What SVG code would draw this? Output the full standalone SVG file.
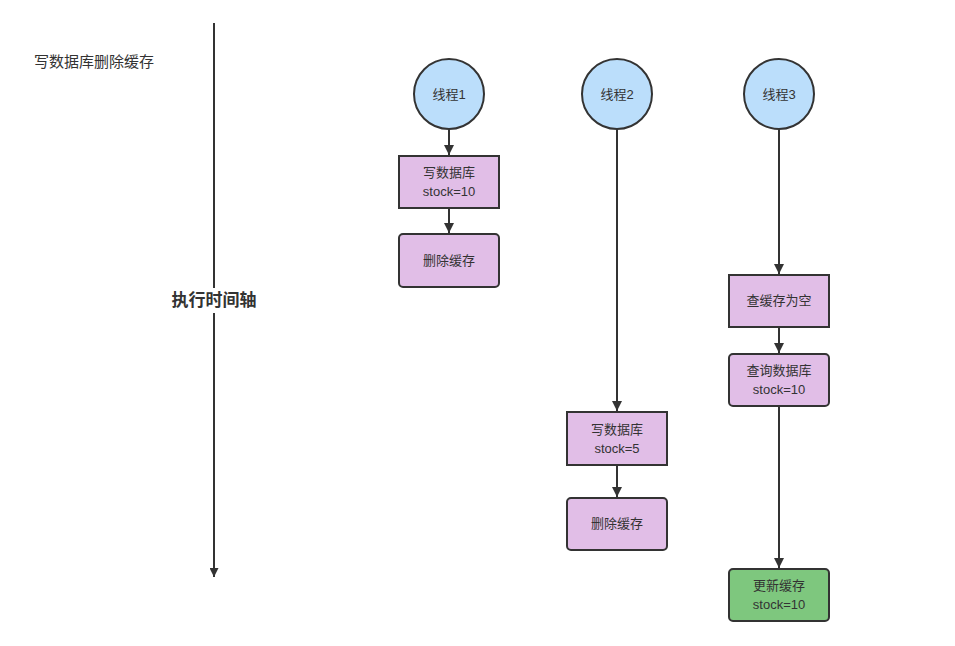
<svg xmlns="http://www.w3.org/2000/svg" width="955" height="646" viewBox="0 0 955 646">
<defs>
<marker id="ah" viewBox="0 0 10 10" refX="10" refY="5" markerWidth="11" markerHeight="10" markerUnits="userSpaceOnUse" orient="auto">
<path d="M0,0 L10,5 L0,10 Z" fill="#333"/>
</marker>
<marker id="ah2" viewBox="0 0 10 10" refX="10" refY="5" markerWidth="14" markerHeight="9" markerUnits="userSpaceOnUse" orient="auto">
<path d="M0,0 L10,5 L0,10 Z" fill="#333"/>
</marker>
<style>
.t{font-family:"Liberation Sans","Noto Sans CJK SC",sans-serif;font-size:13px;fill:#333;text-anchor:middle;}
.c{fill:#bbdefb;stroke:#333;stroke-width:2;}
.b{fill:#e1bee7;stroke:#333;stroke-width:2;}
.g{fill:#7ec77e;stroke:#333;stroke-width:2;}
.e{stroke:#333;stroke-width:2;fill:none;}
</style>
</defs>
<rect width="955" height="646" fill="#fff"/>
<text x="34" y="67" class="t" style="text-anchor:start;font-size:15px">写数据库删除缓存</text>
<g id="timeline">
<line x1="214" y1="23" x2="214" y2="577" stroke="#333" stroke-width="2" marker-end="url(#ah2)"/>
<rect x="168" y="288" width="94" height="25" fill="#fff"/>
<text x="214" y="306" class="t" style="font-size:17px;font-weight:bold">执行时间轴</text>
</g>
<g id="connectors">
<line class="e" x1="449" y1="129" x2="449" y2="155" marker-end="url(#ah)"/>
<line class="e" x1="449" y1="208" x2="449" y2="233" marker-end="url(#ah)"/>
<line class="e" x1="617" y1="129" x2="617" y2="411" marker-end="url(#ah)"/>
<line class="e" x1="617" y1="465" x2="617" y2="497" marker-end="url(#ah)"/>
<line class="e" x1="779" y1="129" x2="779" y2="274" marker-end="url(#ah)"/>
<line class="e" x1="779" y1="327" x2="779" y2="353" marker-end="url(#ah)"/>
<line class="e" x1="779" y1="406" x2="779" y2="568" marker-end="url(#ah)"/>
</g>
<g id="thread1"><circle class="c" cx="449" cy="94" r="35"/><text class="t" x="449" y="99">线程1</text></g>
<g id="thread2"><circle class="c" cx="617" cy="94" r="35"/><text class="t" x="617" y="99">线程2</text></g>
<g id="thread3"><circle class="c" cx="779" cy="94" r="35"/><text class="t" x="779" y="99">线程3</text></g>
<g id="t1write"><rect class="b" x="399" y="156" width="100" height="52"/><text class="t" x="449" y="177">写数据库</text><text class="t" x="449" y="196">stock=10</text></g>
<g id="t1del"><rect class="b" x="399" y="234" width="100" height="53" rx="4"/><text class="t" x="449" y="265">删除缓存</text></g>
<g id="t2write"><rect class="b" x="567" y="412" width="100" height="53"/><text class="t" x="617" y="434">写数据库</text><text class="t" x="617" y="453">stock=5</text></g>
<g id="t2del"><rect class="b" x="567" y="498" width="100" height="52" rx="4"/><text class="t" x="617" y="528">删除缓存</text></g>
<g id="t3check"><rect class="b" x="729" y="275" width="100" height="52"/><text class="t" x="779" y="305">查缓存为空</text></g>
<g id="t3query"><rect class="b" x="729" y="354" width="100" height="52" rx="4"/><text class="t" x="779" y="375">查询数据库</text><text class="t" x="779" y="394">stock=10</text></g>
<g id="t3update"><rect class="g" x="729" y="569" width="100" height="52" rx="4"/><text class="t" x="779" y="590">更新缓存</text><text class="t" x="779" y="609">stock=10</text></g>
</svg>
